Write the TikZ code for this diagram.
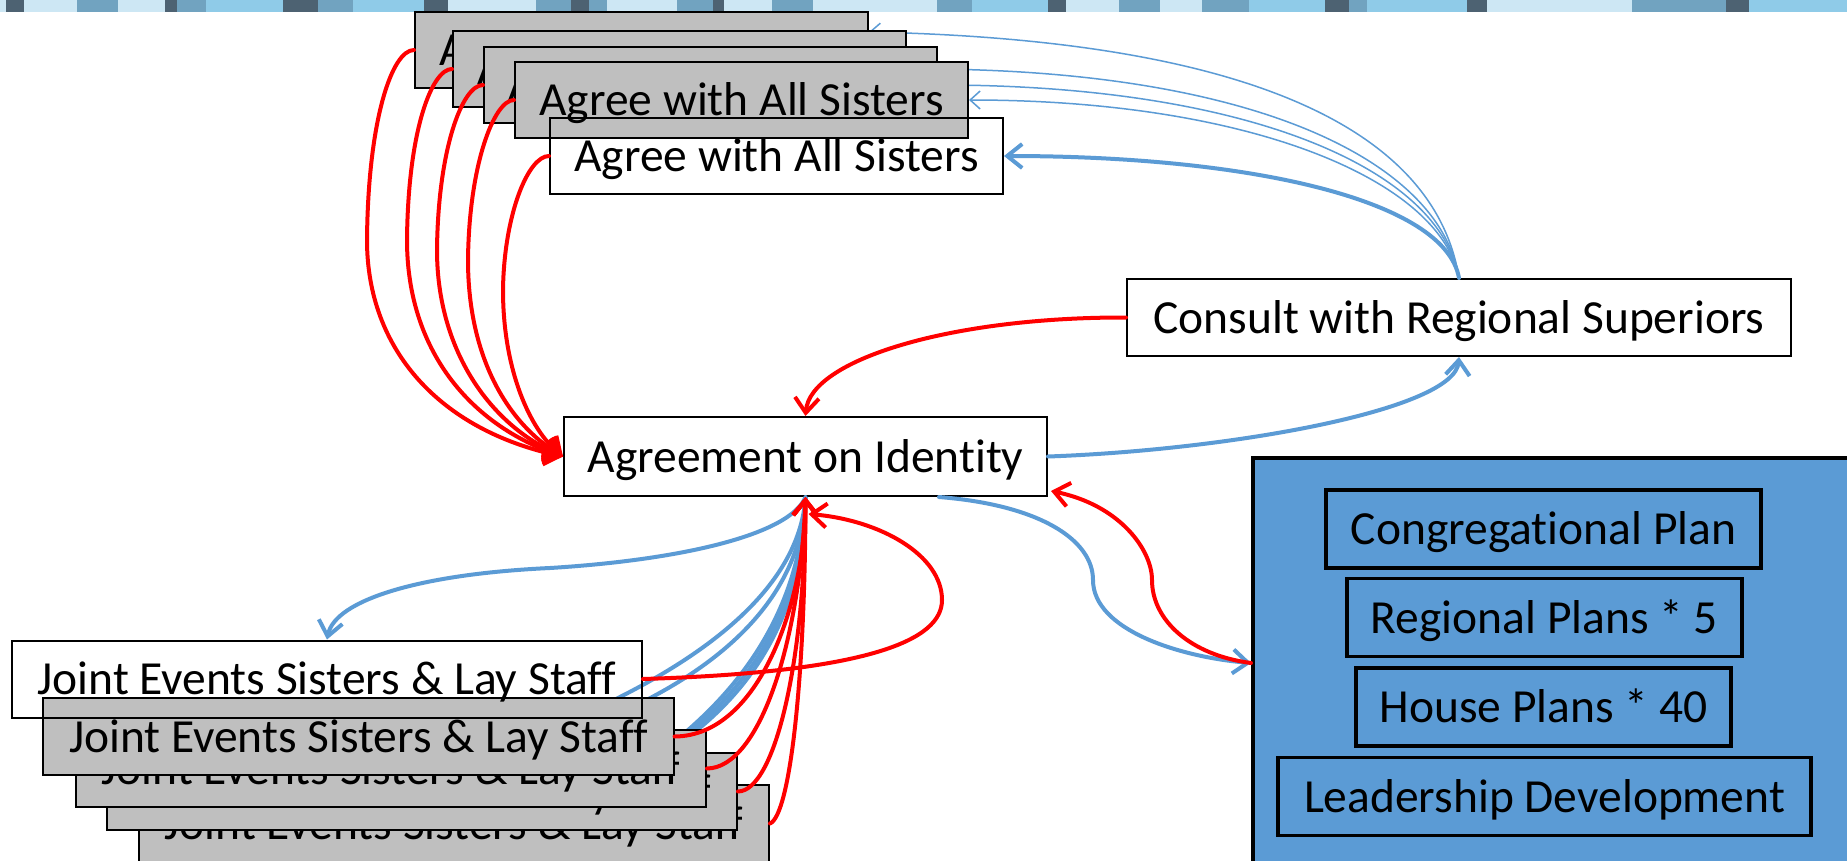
\documentclass[tikz,border=0pt]{standalone}
\usepackage{fontspec}
\setmainfont{Carlito}[Ligatures={NoCommon}]
\usetikzlibrary{arrows.meta,calc}
\definecolor{pblue}{HTML}{5B9BD5}
\definecolor{pgray}{HTML}{BFBFBF}
\definecolor{pred}{HTML}{FF0000}
\definecolor{slight}{HTML}{CDE7F4}
\definecolor{smid}{HTML}{8FCBE8}
\definecolor{ssteel}{HTML}{71A3C0}
\definecolor{sdark}{HTML}{4D6272}
\newcommand\diagfont{\fontsize{47.5bp}{57bp}\selectfont}
\pgfdeclarelayer{back}
\pgfdeclarelayer{under}
\pgfsetlayers{back,under,main}
\begin{document}
\begin{tikzpicture}[x=1bp,y=-1bp,
 box/.style={draw=black, line width=2bp, inner sep=0pt, text height=31bp, text depth=0pt, font=\diagfont},
 stackbox/.style={box, fill=pgray},
 topbox/.style={minimum width=453bp, minimum height=76bp},
 jointbox/.style={minimum width=630bp, minimum height=77bp},
 planbox/.style={box, line width=3.5bp, minimum height=78bp},
 redline/.style={draw=pred, line width=4bp, line cap=round, -{Straight Barb[length=15bp,width=24bp]}},
 blueline/.style={draw=pblue, line width=4bp, line cap=round, -{Straight Barb[length=15bp,width=24bp]}},
 thinline/.style={draw=pblue, line width=1.5bp, -{Straight Barb[length=10bp,width=18bp]}},
 plainblue/.style={draw=pblue, line width=4bp},
]
\path[use as bounding box] (0,0) rectangle (1847,861);
\clip (0,0) rectangle (1847,861);

\begin{pgfonlayer}{back}
\fill[white] (0,0) rectangle (1847,861);
\fill[slight] (0,0) rectangle (1847,12);
\foreach \a/\b in {6/24,165/177,283/318,424/448,571/589,713/724,1048/1066,1325/1349,1467/1487,1726/1749}
  \fill[sdark] (\a,0) rectangle (\b,12);
\foreach \a/\b in {77/118,177/206,318/353,536/571,589/607,677/713,772/813,937/972,1119/1160,1202/1249,1349/1367,1632/1726}
  \fill[ssteel] (\a,0) rectangle (\b,12);
\foreach \a/\b in {206/283,353/424,972/1048,1249/1325,1367/1467,1749/1847}
  \fill[smid] (\a,0) rectangle (\b,12);
\end{pgfonlayer}

% central nodes
\node[box, minimum width=483bp, minimum height=79bp] (agr) at (805.5,456.5) {Agreement on Identity};
\node[box, minimum width=664bp, minimum height=77bp] (con) at (1459,317.5) {Consult with Regional Superiors};

% plans panel
\node[draw=black, line width=4bp, fill=pblue, minimum width=640bp, minimum height=410bp, anchor=north west, inner sep=0pt] (plans) at (1251,456) {};
\node[planbox, minimum width=435bp] (cong) at (1543.5,529) {Congregational Plan};
\node[planbox, minimum width=395bp] (reg) at (1544.5,617.5) {Regional Plans * 5};
\node[planbox, minimum width=375bp] (house) at (1543.5,707) {House Plans * 40};
\node[planbox, minimum width=533bp] (lead) at (1544.5,796.5) {Leadership Development};

% top stack
\node[stackbox,topbox] (g1) at (641.5,50) {Agree with All Sisters};
\draw[redline] (g1.west) .. controls (392,50) and (368,120) .. (367,240) .. controls (367,350) and (440,430) .. (agr.west);
\draw[thinline] (con.north) .. controls (1435,130) and (1250,40) .. ($(g1.east)+(0,-18)$);

\node[stackbox,topbox] (g2) at (679.5,69) {Agree with All Sisters};
\draw[redline] (g2.west) .. controls (432,69) and (408,130) .. (407,240) .. controls (407,350) and (470,425) .. (agr.west);
\draw[thinline] (con.north) .. controls (1440,160) and (1250,67) .. (g2.east);

\node[stackbox,topbox] (g3) at (710.5,85) {Agree with All Sisters};
\draw[redline] (g3.west) .. controls (462,85) and (438,150) .. (437,250) .. controls (437,350) and (490,425) .. (agr.west);
\draw[thinline] (con.north) .. controls (1440,170) and (1250,85) .. (g3.east);

\node[stackbox,topbox] (g4) at (741.5,100) {Agree with All Sisters};
\draw[redline] (g4.west) .. controls (494,100) and (469,165) .. (468,260) .. controls (468,360) and (510,425) .. (agr.west);
\draw[thinline] (con.north) .. controls (1440,180) and (1250,100) .. (g4.east);

\node[box,topbox] (tw) at (776.5,156) {Agree with All Sisters};
\draw[redline] (tw.west) .. controls (528,156) and (504,215) .. (503,290) .. controls (503,370) and (530,430) .. (agr.west);
\draw[blueline] (con.north) .. controls (1445,200) and (1250,156) .. (tw.east);

% consult links
\draw[redline] (con.west) .. controls (950,317) and (810,360) .. (agr.north);
\draw[blueline] (agr.east) .. controls (1230,450) and (1455,410) .. (con.south);

% plans links
\draw[blueline] ($(agr.south east)+(-109,0)$) .. controls (1040,505) and (1093,540) .. (1093,580) .. controls (1093,630) and (1180,657) .. (plans.west);
\draw[redline] (plans.west) .. controls (1190,655) and (1152,620) .. (1152,580) .. controls (1152,550) and (1120,505) .. ($(agr.south east)+(3,-6)$);

% bottom stack
\node[stackbox,jointbox] (jg4) at (454,823.5) {Joint Events Sisters \& Lay Staff};
\node[stackbox,jointbox] (jg3) at (422,791.5) {Joint Events Sisters \& Lay Staff};
\node[stackbox,jointbox] (jg2) at (391,768.5) {Joint Events Sisters \& Lay Staff};
\node[stackbox,jointbox] (jg1) at (358.5,736.5) {Joint Events Sisters \& Lay Staff};
\node[box,jointbox] (jw) at (327,679) {Joint Events Sisters \& Lay Staff};

\begin{pgfonlayer}{under}
\draw[plainblue] (agr.south) .. controls (800,580) and (720,650) .. ($(jg1.north east)+(-75,10)$);
\draw[plainblue] (agr.south) .. controls (802,585) and (740,655) .. ($(jg1.north east)+(-42,10)$);
\draw[plainblue] (agr.south) .. controls (803,600) and (758,680) .. ($(jg2.north east)+(-28,12)$);
\draw[plainblue] (agr.south) .. controls (804,603) and (762,683) .. ($(jg2.north east)+(-24,12)$);
\draw[plainblue] (agr.south) .. controls (801,597) and (754,677) .. ($(jg2.north east)+(-32,12)$);
\end{pgfonlayer}

\draw[blueline] (agr.south) .. controls (790,535) and (680,560) .. (550,568) .. controls (420,574) and (335,600) .. (jw.north);

\draw[redline] (jg1.east) .. controls (760,736) and (805,600) .. (agr.south);
\draw[redline] (jg2.east) .. controls (760,768) and (800,640) .. (agr.south);
\draw[redline] (jg3.east) .. controls (775,791) and (805,660) .. (agr.south);
\draw[redline] (jg4.east) .. controls (790,815) and (805,680) .. (agr.south);
\draw[redline] (jw.east) .. controls (870,672) and (942,640) .. (942,600) .. controls (942,555) and (880,520) .. ($(agr.south)+(3,17)$);
\end{tikzpicture}
\end{document}
